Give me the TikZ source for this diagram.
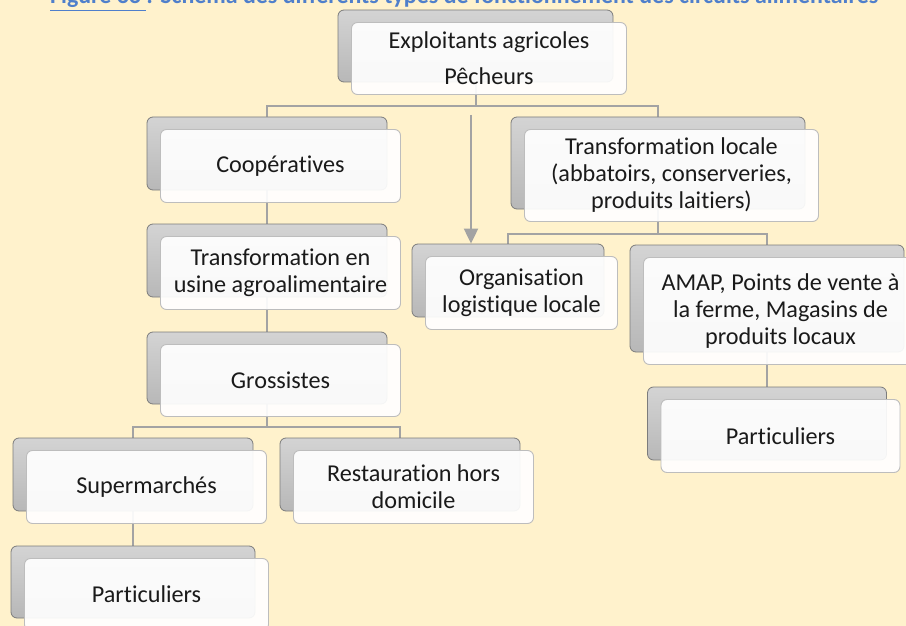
\documentclass[tikz,border=0pt]{standalone}
\usepackage{fontspec}
\setmainfont{Carlito}[Ligatures={NoCommon,NoContextual}]
\usetikzlibrary{arrows.meta}
\pgfdeclarelayer{paperlayer}
\pgfdeclarelayer{wires}
\pgfsetlayers{paperlayer,wires,main}
\definecolor{paper}{HTML}{FFF2CC}
\definecolor{titleblue}{HTML}{4F7FCB}
\definecolor{wire}{HTML}{A3A3A3}
\definecolor{backedge}{HTML}{7C7C7C}
\definecolor{frontedge}{HTML}{BDBDBD}
\definecolor{inktext}{HTML}{1A1A1A}
\tikzset{
  backbox/.style={rectangle, rounded corners=6pt, draw=backedge, line width=0.8pt,
    top color=black!17, bottom color=black!28, inner sep=0pt},
  frontbox/.style={rectangle, rounded corners=6pt, draw=frontedge, line width=0.9pt,
    fill=white, fill opacity=0.92, text opacity=1, text=inktext, align=center,
    inner sep=2pt, font=\fontsize{24.2}{27}\selectfont},
  conn/.style={draw=wire, line width=2pt},
}
\newcommand\mkcard[6]{%
  \node[backbox, minimum width=#4pt, minimum height=#5pt] (#1b) at (#2,#3) {};
  \node[frontbox, minimum width=#4pt, minimum height=#5pt, xshift=13.5pt, yshift=-12.5pt] (#1) at (#1b) {#6};
}
\begin{document}
\begin{tikzpicture}[x=1pt,y=-1pt]
\useasboundingbox (0,0) rectangle (906,626);
\begin{pgfonlayer}{paperlayer}
  \fill[paper] (0,0) rectangle (906,626);
\end{pgfonlayer}
\node[anchor=base west, inner sep=0pt, text=titleblue] (title) at (50,3.5)
  {\resizebox{828pt}{!}{\bfseries\underline{Figure 33 }: Schéma des différents types de fonctionnement des circuits alimentaires}};
\mkcard{top}{475.5}{46}{275}{72}{Exploitants agricoles\\[9pt]Pêcheurs}
\mkcard{coop}{267}{153.5}{240}{73}{Coopératives}
\mkcard{usine}{267}{260.5}{240}{73}{Transformation en\\usine agroalimentaire}
\mkcard{gross}{267}{368}{240}{72}{Grossistes}
\mkcard{super}{133}{474.5}{240}{73}{Supermarchés}
\mkcard{partL}{133}{582}{244}{72}{Particuliers}
\mkcard{resto}{400}{474.5}{240}{73}{Restauration hors\\domicile}
\mkcard{transloc}{658}{163}{294}{92}{Transformation locale\\(abbatoirs, conserveries,\\produits laitiers)}
\mkcard{orga}{508}{280.5}{192}{73}{Organisation\\logistique locale}
\mkcard{amap}{767}{298.5}{274}{107}{AMAP, Points de vente à\\la ferme, Magasins de\\produits locaux}
\mkcard{partR}{767}{423.5}{239}{73}{Particuliers}
\coordinate (arrtop) at (471,115);
\begin{pgfonlayer}{wires}
  \draw[conn] (topb.south) -- ++(0,24) -| (coopb.north);
  \draw[conn] (topb.south) -- ++(0,24) -| (translocb.north);
  \draw[conn] (coopb.south) -- (usineb.north);
  \draw[conn] (usineb.south) -- (grossb.north);
  \draw[conn] (grossb.south) -- ++(0,23) -| (superb.north);
  \draw[conn] (grossb.south) -- ++(0,23) -| (restob.north);
  \draw[conn] (superb.south) -- (partLb.north);
  \draw[conn] (translocb.south) -- ++(0,25) -| (orgab.north);
  \draw[conn] (translocb.south) -- ++(0,25) -| (amapb.north);
  \draw[conn] (amapb.south) -- (partRb.north);
  \draw[conn, -{Triangle[width=14pt,length=15pt]}] (arrtop) -- (arrtop |- orgab.north);
\end{pgfonlayer}
\end{tikzpicture}
\end{document}
